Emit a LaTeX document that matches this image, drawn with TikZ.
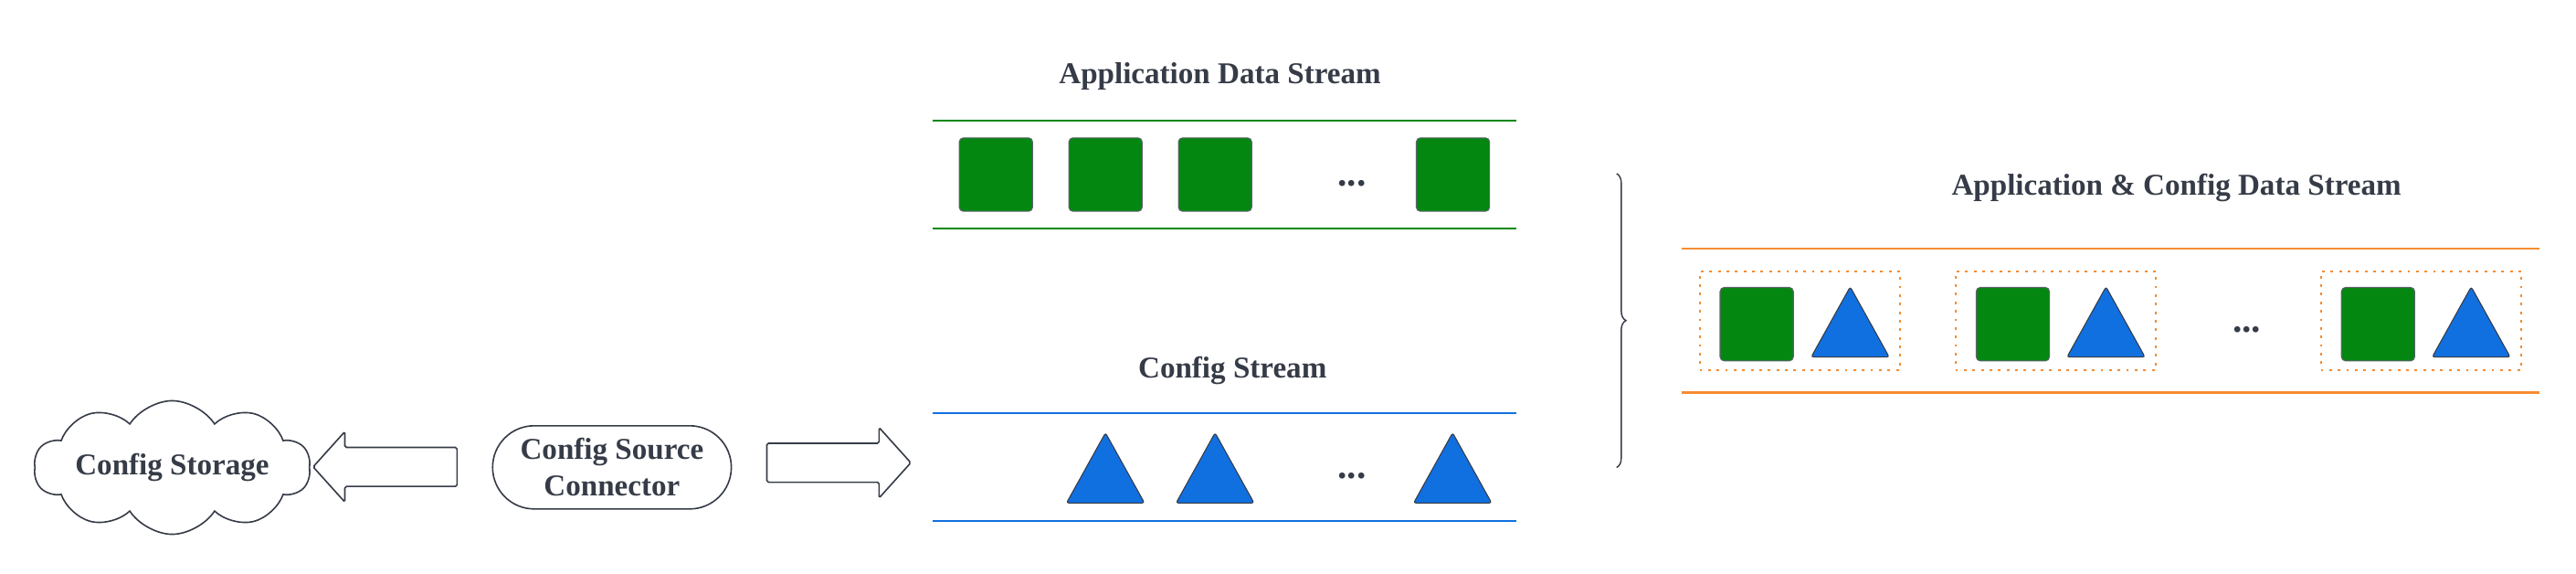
\documentclass[tikz,border=0pt]{standalone}
\usepackage{fontspec}
\setmainfont{Liberation Serif}
\usepackage{tikz}
\usetikzlibrary{shapes.geometric, shapes.symbols, shapes.arrows, shapes.misc, decorations.pathreplacing, positioning}
\definecolor{ink}{RGB}{54,60,71}
\definecolor{appgreen}{RGB}{3,135,17}
\definecolor{cfgblue}{RGB}{17,112,224}
\definecolor{mixorange}{RGB}{245,140,50}
\tikzstyle{appbox} = [rectangle, rounded corners=2.5pt, draw=ink!80, line width=0.6pt, fill=appgreen, minimum width=44.6pt, minimum height=44.7pt, inner sep=0pt]
\tikzstyle{cfgtri} = [isosceles triangle, isosceles triangle stretches, shape border rotate=90, rounded corners=1.5pt, draw=ink, line width=0.6pt, fill=cfgblue, minimum width=47.5pt, minimum height=42.7pt, inner sep=0pt, anchor=lower side]
\tikzstyle{title} = [text=ink, font=\fontsize{18.4}{22.3}\selectfont\bfseries, align=center]
\tikzstyle{gap} = [text=ink, font=\fontsize{23}{23}\selectfont\bfseries, anchor=base]
\tikzstyle{pairbox} = [rectangle, draw=mixorange, line width=1.1pt, dash pattern=on 1.6pt off 3.6pt, minimum width=122pt, minimum height=60pt, inner sep=0pt]
\tikzstyle{blockarrow} = [single arrow, draw=ink, line width=0.9pt, rounded corners=1pt, minimum height=87.6pt, inner sep=0pt, inner ysep=11.4pt, single arrow head extend=9.6pt, single arrow tip angle=96, anchor=tip]

\begin{document}
\begin{tikzpicture}[x=1pt, y=-1pt, node distance=66.7pt]
        \useasboundingbox (0,0) rectangle (1568,349);

        % Source side
        \node (store) [cloud, cloud puffs=10, cloud puff arc=115, aspect=3, draw=ink, line width=0.9pt, minimum width=140pt, minimum height=26pt, inner sep=0pt, title] at (104.8,284.4) {Config Storage};
        \node (connector) [rounded rectangle, draw=ink, line width=0.9pt, minimum width=145.3pt, minimum height=50.6pt, inner sep=0pt, title] at (372.5,284.3) {Config Source\\Connector};
        \node (tostore) [blockarrow, shape border rotate=180] at (190,284) {};
        \node (tostream) [blockarrow] at (555,281.5) {};

        % Application data stream
        \node (apptitle) [title, anchor=base] at (742.6,51) {Application Data Stream};
        \draw [appgreen, line width=1.2pt] (567.5,73.3) -- (923,73.3);
        \draw [appgreen, line width=1.2pt] (567.5,139) -- (923,139);
        \node (app1) [appbox] at (606.2,106.2) {};
        \node (app2) [appbox, right of=app1] {};
        \node (app3) [appbox, right of=app2] {};
        \node (appdots) [gap] at (823,113) {...};
        \node (app4) [appbox, right of=app3, xshift=78.1pt] {};

        % Config stream
        \node (cfgtitle) [title, anchor=base] at (750.2,230) {Config Stream};
        \draw [cfgblue, line width=1.2pt] (567.5,251.2) -- (923,251.2);
        \draw [cfgblue, line width=1.2pt] (567.5,317) -- (923,317);
        \node (cfg1) [cfgtri] at (672.9,306.3) {};
        \node (cfg2) [cfgtri] at (739.6,306.3) {};
        \node (cfgdots) [gap] at (823,291) {...};
        \node (cfg3) [cfgtri] at (884.2,306.3) {};

        % Merge
        \coordinate (bracetop) at (984,105.6);
        \coordinate (bracebot) at (984,284.4);
        \draw [ink, line width=0.8pt, decorate, decoration={brace, amplitude=5.7pt}] (bracetop) -- (bracebot);

        % Application & config data stream
        \node (mixtitle) [title, anchor=base] at (1324.8,118.7) {Application \& Config Data Stream};
        \draw [mixorange, line width=1.2pt] (1023.5,151.1) -- (1546,151.1);
        \draw [mixorange, line width=1.2pt] (1023.5,238.8) -- (1546,238.8);
        \node (pair1) [pairbox] at (1095.5,195) {};
        \node (pair2) [pairbox] at (1251.2,195) {};
        \node (pair3) [pairbox] at (1473.6,195) {};
        \node (mixapp1) [appbox] at (1069.3,197.2) {};
        \node (mixcfg1) [cfgtri] at (1126.2,217.5) {};
        \node (mixapp2) [appbox] at (1225.2,197.2) {};
        \node (mixcfg2) [cfgtri] at (1281.9,217.5) {};
        \node (mixdots) [gap] at (1367.7,202) {...};
        \node (mixapp3) [appbox] at (1447.5,197.2) {};
        \node (mixcfg3) [cfgtri] at (1504.2,217.5) {};

    \end{tikzpicture}
\end{document}
